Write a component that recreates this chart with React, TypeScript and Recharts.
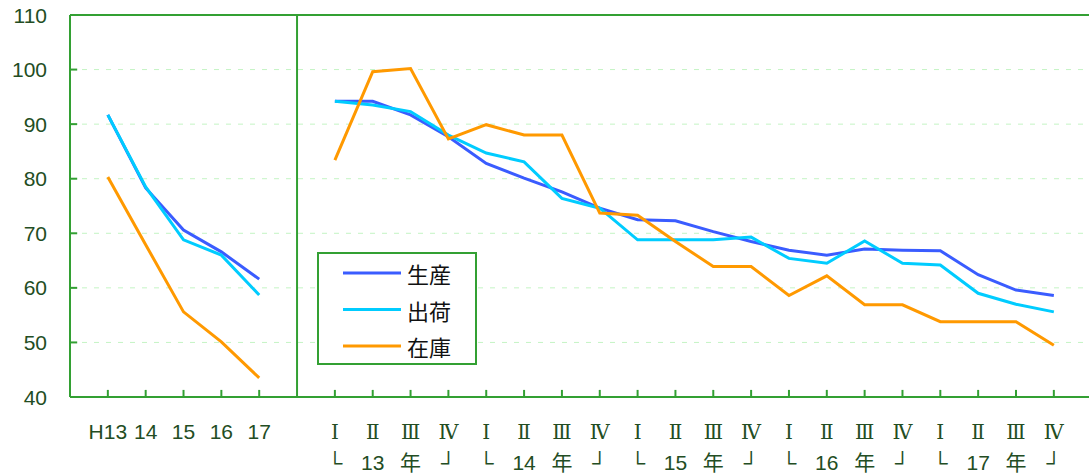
import { LineChart, Line, XAxis, YAxis, CartesianGrid, ReferenceLine } from 'recharts'

const annualLabels = ['H13', '14', '15', '16', '17']
const annualProd = [91.7, 78.3, 70.6, 66.6, 61.6]
const annualShip = [91.7, 78.5, 68.8, 66.0, 58.7]
const annualStock = [80.3, 67.9, 55.6, 50.1, 43.5]

const quarterLabels = [
  'Ⅰ', 'Ⅱ', 'Ⅲ', 'Ⅳ', 'Ⅰ', 'Ⅱ', 'Ⅲ', 'Ⅳ', 'Ⅰ', 'Ⅱ', 'Ⅲ', 'Ⅳ',
  'Ⅰ', 'Ⅱ', 'Ⅲ', 'Ⅳ', 'Ⅰ', 'Ⅱ', 'Ⅲ', 'Ⅳ',
]
const yearMarks = [
  '└', '13', '年', '┘', '└', '14', '年', '┘', '└', '15', '年', '┘',
  '└', '16', '年', '┘', '└', '17', '年', '┘',
]
const quarterProd = [94.2, 94.2, 91.7, 87.7, 82.8, 80.1, 77.6, 74.6, 72.5, 72.3, 70.3, 68.5, 66.9, 66.0, 67.1, 66.9, 66.8, 62.4, 59.6, 58.6]
const quarterShip = [94.2, 93.5, 92.3, 88.0, 84.7, 83.1, 76.4, 74.6, 68.8, 68.8, 68.8, 69.3, 65.4, 64.5, 68.6, 64.5, 64.2, 59.0, 57.0, 55.6]
const quarterStock = [83.4, 99.6, 100.2, 87.3, 89.9, 88.0, 88.0, 73.7, 73.3, 68.5, 63.9, 63.9, 58.6, 62.2, 56.9, 56.9, 53.8, 53.8, 53.8, 49.5]

const yTicks = [40, 50, 60, 70, 80, 90, 100, 110]

const series = [
  { key: 'prod', name: '生産', color: '#3a5cff' },
  { key: 'ship', name: '出荷', color: '#00ccff' },
  { key: 'stock', name: '在庫', color: '#ff9900' },
]

// annual points at 0..4, gap at 5 (divider), quarters at 6..25
const data = [
  ...annualLabels.map((_, i) => ({ x: i, prod: annualProd[i], ship: annualShip[i], stock: annualStock[i] })),
  { x: 5, prod: null, ship: null, stock: null },
  ...quarterLabels.map((_, k) => ({ x: k + 6, prod: quarterProd[k], ship: quarterShip[k], stock: quarterStock[k] })),
]
const xTicks = data.filter(d => d.x !== 5).map(d => d.x)

const X_MIN = -1
const X_MAX = 26.22
// short inward tick marks, in data units (~7px)
const X_TICK_LEN = 1.3
const Y_TICK_LEN = 0.19

const AXIS = '#33a033'
const TEXT = '#234d23'
const FONT = "'Liberation Sans', 'Noto Sans CJK JP', sans-serif"

function XTick({ x, y, payload }: any) {
  const i = payload.value as number
  if (i < 5) {
    return (
      <text x={x} y={y + 42} textAnchor="middle" fill={TEXT} fontSize={21} fontFamily={FONT}>
        {annualLabels[i]}
      </text>
    )
  }
  const k = i - 6
  return (
    <g>
      <text x={x} y={y + 42} textAnchor="middle" fill={TEXT} fontSize={20} fontFamily="'DejaVu Serif', serif">
        {quarterLabels[k]}
      </text>
      <text x={x} y={y + 73} textAnchor="middle" fill={TEXT} fontSize={21} fontFamily={FONT}>
        {yearMarks[k]}
      </text>
    </g>
  )
}

function YTick({ x, y, payload }: any) {
  return (
    <text x={x} y={y} textAnchor="end" dominantBaseline="central" fill={TEXT} fontSize={21} fontFamily={FONT}>
      {payload.value}
    </text>
  )
}

export default function App() {
  return (
    <div style={{ position: 'absolute', left: 0, top: 0, width: 1089, height: 474, overflow: 'hidden', background: '#fff' }}>
      <LineChart width={1100} height={474} data={data} margin={{ top: 15, right: 0, bottom: 0, left: 0 }}>
        <CartesianGrid vertical={false} stroke="#c4f4c4" strokeDasharray="5 7" />
        <XAxis
          dataKey="x"
          type="number"
          domain={[X_MIN, X_MAX]}
          allowDataOverflow
          ticks={xTicks}
          interval={0}
          height={77}
          tickSize={0}
          tickMargin={0}
          axisLine={{ stroke: AXIS, strokeWidth: 2 }}
          tickLine={false}
          tick={<XTick />}
        />
        <YAxis
          domain={[40, 110]}
          ticks={yTicks}
          interval={0}
          width={70}
          tickSize={0}
          tickMargin={23}
          axisLine={{ stroke: AXIS, strokeWidth: 2 }}
          tickLine={false}
          tick={<YTick />}
        />
        <ReferenceLine y={110} stroke={AXIS} strokeWidth={2} />
        <ReferenceLine x={5} stroke={AXIS} strokeWidth={2} />
        {xTicks.map(t => (
          <ReferenceLine key={'xt' + t} segment={[{ x: t, y: 40 }, { x: t, y: 40 + X_TICK_LEN }]} stroke={AXIS} strokeWidth={2} />
        ))}
        {yTicks.map(t => (
          <ReferenceLine key={'yt' + t} segment={[{ x: X_MIN, y: t }, { x: X_MIN + Y_TICK_LEN, y: t }]} stroke={AXIS} strokeWidth={2} />
        ))}
        {series.map(s => (
          <Line
            key={s.key}
            dataKey={s.key}
            name={s.name}
            stroke={s.color}
            strokeWidth={3}
            dot={false}
            type="linear"
            isAnimationActive={false}
          />
        ))}
      </LineChart>
      <svg width={160} height={113} style={{ position: 'absolute', left: 317, top: 252 }}>
        <rect x={1} y={1} width={158} height={111} fill="#fff" stroke={AXIS} strokeWidth={2} />
        {series.map((s, i) => {
          const cy = 21 + i * 36.5
          return (
            <g key={s.key}>
              <line x1={26} x2={84} y1={cy} y2={cy} stroke={s.color} strokeWidth={3} />
              <text x={90} y={cy} dominantBaseline="central" fontSize={22} fill="#111" fontFamily="'Noto Sans CJK JP', sans-serif">
                {s.name}
              </text>
            </g>
          )
        })}
      </svg>
    </div>
  )
}
